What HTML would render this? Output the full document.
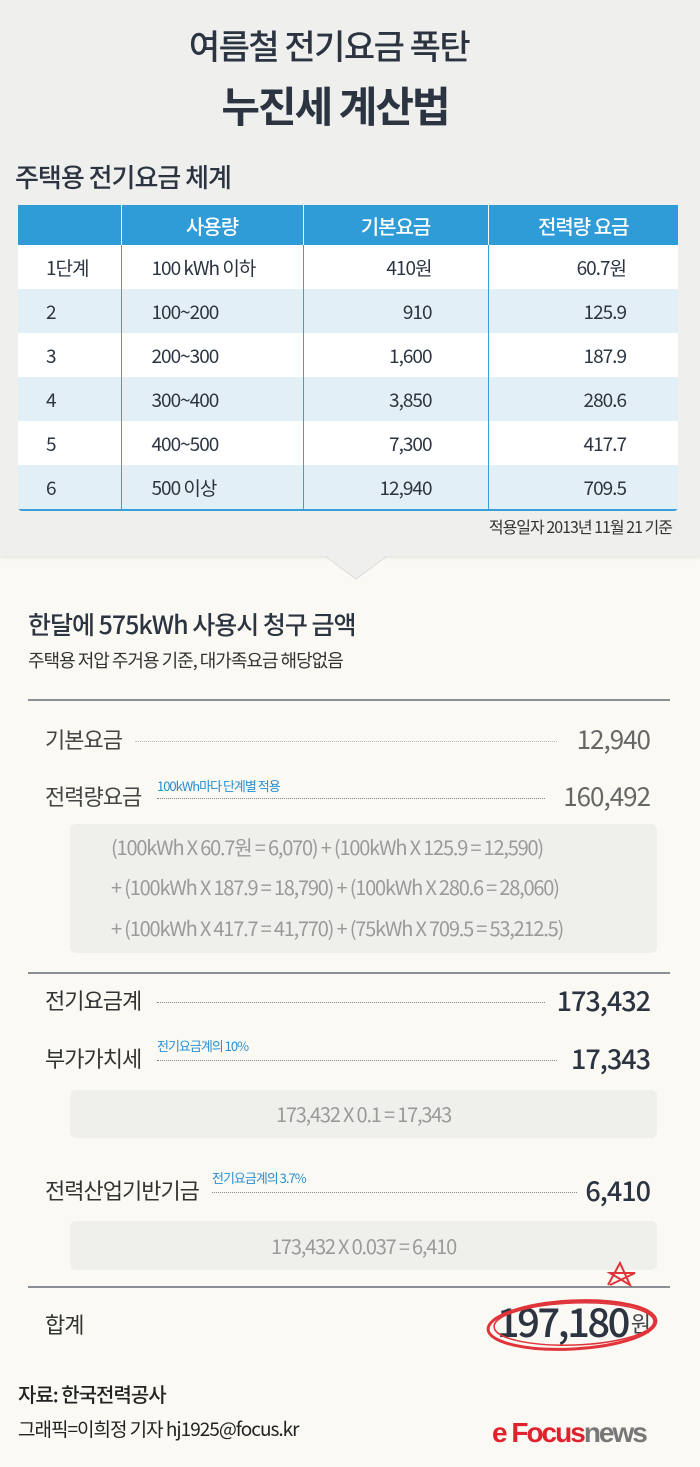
<!DOCTYPE html>
<html><head><meta charset="utf-8">
<style>
*{margin:0;padding:0;box-sizing:border-box}
body{width:700px;height:1467px;position:relative;background:#faf9f4;font-family:"Liberation Sans","Noto Sans CJK KR",sans-serif;color:#2b3440;overflow:hidden}
.a{position:absolute;white-space:nowrap}
.top{position:absolute;left:0;top:0;width:700px;height:556px;background:#efefee;box-shadow:0 2px 3px rgba(0,0,0,.08)}
table{position:absolute;left:18px;top:205px;width:660px;border-collapse:collapse;font-family:"Noto Sans CJK KR",sans-serif;font-size:19px;letter-spacing:-1px;color:#2b3440}
th{background:#2f9bd7;color:#fff;font-weight:500;height:40px;border-right:1px solid #fff;font-size:20px}
th:last-child{border-right:none}
td{height:44px;border-right:1px solid #3a9fd8}
td:last-child{border-right:none}
tr.b td{background:#e3eff7}
tr.w td{background:#fff}
.dot{position:absolute;border-top:1.5px dotted #888;height:0}
.box{position:absolute;background:#efefec;border-radius:6px}
.k{font-family:"Noto Sans CJK KR",sans-serif;letter-spacing:-1px}
.hl{position:absolute;height:2px;background:#8a8f93;left:28px;width:642px}
.note{color:#2a8fd0;font-size:13px}
.f{color:#9a9a9a;font-size:20px;letter-spacing:-1.2px}
</style></head><body>
<div class="top"></div>
<svg class="a" style="left:325px;top:553px" width="62" height="27"><polygon points="0,2 31,26 62,2" fill="#efefee"/><polyline points="0,3 31,26 62,3" fill="none" stroke="#dcdcda" stroke-width="1"/></svg>

<div class="a k" style="left:0;width:658px;text-align:center;top:24px;font-size:34px;line-height:42px;font-weight:500;letter-spacing:-1.5px">여름철 전기요금 폭탄</div>
<div class="a k" style="left:0;width:670px;text-align:center;top:80px;font-size:42px;line-height:50px;font-weight:700;letter-spacing:-2px">누진세 계산법</div>
<div class="a k" style="left:15px;top:160px;font-size:26px;line-height:34px;font-weight:500">주택용 전기요금 체계</div>

<div class="a" style="left:18px;top:205px;width:660px;height:306px;border:2px solid #3a9fd8;border-radius:0 6px 4px 4px"></div>
<table>
<tr><th style="width:103px"></th><th style="width:182px">사용량</th><th style="width:185px">기본요금</th><th>전력량 요금</th></tr>
<tr class="w"><td style="padding-left:28px">1단계</td><td style="padding-left:30px">100 kWh 이하</td><td style="text-align:right;padding-right:56px">410원</td><td style="text-align:right;padding-right:52px">60.7원</td></tr>
<tr class="b"><td style="padding-left:28px">2</td><td style="padding-left:30px">100~200</td><td style="text-align:right;padding-right:56px">910</td><td style="text-align:right;padding-right:52px">125.9</td></tr>
<tr class="w"><td style="padding-left:28px">3</td><td style="padding-left:30px">200~300</td><td style="text-align:right;padding-right:56px">1,600</td><td style="text-align:right;padding-right:52px">187.9</td></tr>
<tr class="b"><td style="padding-left:28px">4</td><td style="padding-left:30px">300~400</td><td style="text-align:right;padding-right:56px">3,850</td><td style="text-align:right;padding-right:52px">280.6</td></tr>
<tr class="w"><td style="padding-left:28px">5</td><td style="padding-left:30px">400~500</td><td style="text-align:right;padding-right:56px">7,300</td><td style="text-align:right;padding-right:52px">417.7</td></tr>
<tr class="b"><td style="padding-left:28px">6</td><td style="padding-left:30px">500 이상</td><td style="text-align:right;padding-right:56px">12,940</td><td style="text-align:right;padding-right:52px">709.5</td></tr>
</table>
<div class="a k" style="right:28px;top:515px;font-size:16px;line-height:22px;color:#333">적용일자 2013년 11월 21 기준</div>

<div class="a k" style="left:28px;top:608px;font-size:25px;line-height:32px;font-weight:500">한달에 575kWh 사용시 청구 금액</div>
<div class="a k" style="left:28px;top:648px;font-size:18px;line-height:24px;color:#333">주택용 저압 주거용 기준, 대가족요금 해당없음</div>

<div class="hl" style="top:699px"></div>
<div class="a k" style="left:45px;top:725px;font-size:22px;line-height:28px;color:#444">기본요금</div>
<div class="dot" style="left:135px;width:422px;top:741px;border-top-color:#bbb"></div>
<div class="a k" style="right:50px;top:723px;font-size:26px;line-height:32px;color:#666">12,940</div>

<div class="a k" style="left:45px;top:782px;font-size:22px;line-height:28px;color:#444">전력량요금</div>
<div class="a k note" style="left:157px;top:776px">100kWh마다 단계별 적용</div>
<div class="dot" style="left:157px;width:388px;top:798px"></div>
<div class="a k" style="right:50px;top:780px;font-size:26px;line-height:32px;color:#666">160,492</div>

<div class="box" style="left:70px;top:824px;width:587px;height:129px"></div>
<div class="a k f" style="left:111px;top:834px;line-height:26px">(100kWh X 60.7원 = 6,070) + (100kWh X 125.9 = 12,590)</div>
<div class="a k f" style="left:111px;top:874px;line-height:26px">+ (100kWh X 187.9 = 18,790) + (100kWh X 280.6 = 28,060)</div>
<div class="a k f" style="left:111px;top:915px;line-height:26px">+ (100kWh X 417.7 = 41,770) + (75kWh X 709.5 = 53,212.5)</div>

<div class="hl" style="top:972px"></div>
<div class="a k" style="left:45px;top:986px;font-size:22px;line-height:28px;color:#333">전기요금계</div>
<div class="dot" style="left:157px;width:388px;top:1002px"></div>
<div class="a k" style="right:50px;top:983px;font-size:27px;line-height:34px;font-weight:500">173,432</div>

<div class="a k" style="left:45px;top:1044px;font-size:22px;line-height:28px;color:#333">부가가치세</div>
<div class="a k note" style="left:157px;top:1036px">전기요금계의 10%</div>
<div class="dot" style="left:157px;width:400px;top:1060px"></div>
<div class="a k" style="right:50px;top:1041px;font-size:27px;line-height:34px;font-weight:500">17,343</div>
<div class="box" style="left:70px;top:1090px;width:587px;height:48px"></div>
<div class="a k f" style="left:70px;width:587px;text-align:center;top:1101px;line-height:26px">173,432 X 0.1 = 17,343</div>

<div class="a k" style="left:45px;top:1176px;font-size:22px;line-height:28px;color:#333">전력산업기반기금</div>
<div class="a k note" style="left:212px;top:1168px">전기요금계의 3.7%</div>
<div class="dot" style="left:212px;width:365px;top:1192px"></div>
<div class="a k" style="right:50px;top:1173px;font-size:27px;line-height:34px;font-weight:500">6,410</div>
<div class="box" style="left:70px;top:1221px;width:587px;height:49px"></div>
<div class="a k f" style="left:70px;width:587px;text-align:center;top:1233px;line-height:26px">173,432 X 0.037 = 6,410</div>

<div class="hl" style="top:1286px"></div>
<div class="a k" style="left:45px;top:1310px;font-size:22px;line-height:28px;color:#333">합계</div>
<div class="a k" style="right:72px;top:1296px;font-size:40px;line-height:48px;font-weight:500;letter-spacing:-2.5px">197,180</div>
<div class="a k" style="right:50px;top:1309px;font-size:22px;line-height:28px;color:#444">원</div>
<svg class="a" style="left:480px;top:1255px" width="190" height="110">
<ellipse cx="92" cy="70" rx="84" ry="24" fill="none" stroke="#e0343a" stroke-width="3" transform="rotate(-3 92 70)"/>
<ellipse cx="94" cy="69" rx="80" ry="21" fill="none" stroke="#e0343a" stroke-width="1.5" transform="rotate(-2 94 69)"/>
<polyline points="128,30 140,8 150,30 130,18 155,18 130,30" fill="none" stroke="#e0343a" stroke-width="2"/>
</svg>

<div class="a k" style="left:18px;top:1381px;font-size:20px;line-height:26px;font-weight:500;color:#222">자료: 한국전력공사</div>
<div class="a k" style="left:18px;top:1416px;font-size:19px;line-height:26px;color:#222">그래픽=이희정 기자 hj1925@focus.kr</div>
<div class="a" style="left:492px;top:1417px;font-size:28px;line-height:32px;font-weight:700;letter-spacing:-2px"><span style="color:#e0222d">e Focus</span><span style="color:#777">news</span></div>
</body></html>
